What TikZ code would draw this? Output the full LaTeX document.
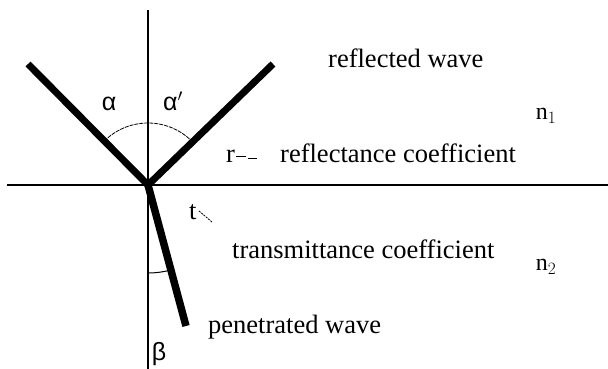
\documentclass[tikz,border=0pt]{standalone}
\usepackage{fontspec}
\usetikzlibrary{calc}
\setmainfont{Liberation Serif}
\newfontfamily\greekfont{Liberation Sans}
\begin{document}
\begin{tikzpicture}[x=1pt,y=-1pt,
  thinline/.style={line width=1.4pt},
  wave/.style={line width=7pt},
  anglearc/.style={line width=0.8pt, dash pattern=on 4pt off 1pt},
  lbl/.style={font=\fontsize{26.5}{30}\selectfont, inner sep=0pt, anchor=base west},
  glbl/.style={font=\greekfont\fontsize{25}{28}\selectfont, inner sep=0pt},
  nlbl/.style={font=\fontsize{24}{26}\selectfont, inner sep=0pt}]
\useasboundingbox (0,0) rectangle (608,369);
\coordinate (O) at (148,185);
\coordinate (Vtop) at (148,10);
\coordinate (Vbot) at (148,369);
\coordinate (Hl) at (7,185);
\coordinate (Hr) at (608,185);
\coordinate (A) at (28,64);
\coordinate (R) at (273,64);
\coordinate (T) at (186,326);
% axes
\draw[thinline] (Vtop) -- (Vbot);
\draw[thinline] (Hl) -- (Hr);
% angle arcs
\draw[anglearc] ($(O)+(-135:62)$) arc[start angle=-135, end angle=-44, radius=62];
\draw[thinline,line width=1pt] ($(O)+(90:88)$) arc[start angle=90, end angle=75, radius=88];
% waves
\draw[wave] (A) -- (O);
\draw[wave] (O) -- (R);
\draw[wave,line width=7.5pt] (O) -- (T);
% labels
\node[glbl] (alpha) at (109,104) {α};
\node[glbl] (alphap) at (173,101) {α$'$};
\node[glbl] (beta) at (159,354) {β};
\node[lbl] (rw) at (328,67) {reflected wave};
\node[lbl] (rlab) at (226,162) {r};
\coordinate (rd1) at (236,156);
\coordinate (rd2) at (246,156);
\coordinate (rd3) at (248,158);
\coordinate (rd4) at (257,158);
\draw[line width=1pt] (rd1) -- (rd2);
\draw[line width=1pt] (rd3) -- (rd4);
\node[lbl] (rc) at (280,162) {reflectance coefficient};
\node[lbl] (tlab) at (189,219) {t};
\coordinate (td1) at (199,211);
\coordinate (td2) at (212,222);
\draw[line width=0.8pt, dash pattern=on 2pt off 1pt] (td1) -- (td2);
\node[lbl] (tc) at (232,258) {transmittance coefficient};
\node[lbl] (pw) at (208,333) {penetrated wave};
\node[nlbl] (n1) at (546,116) {n$_1$};
\node[nlbl] (n2) at (546,267) {n$_2$};
\end{tikzpicture}
\end{document}
